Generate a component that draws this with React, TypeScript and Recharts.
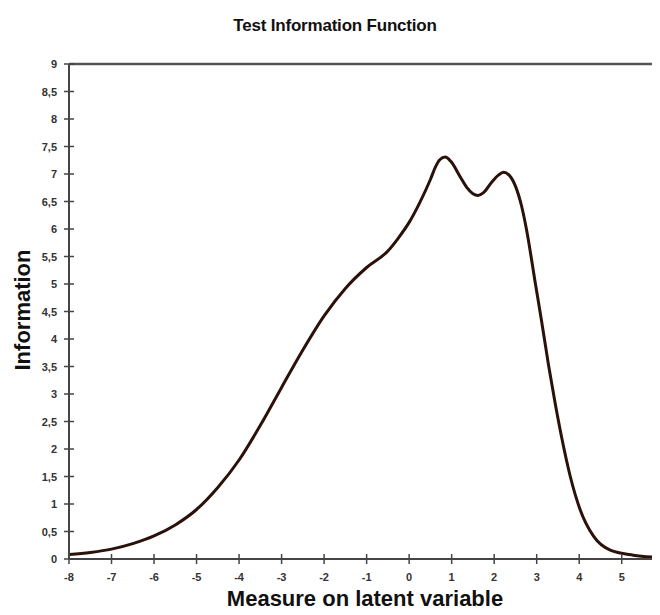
import * as React from 'react';
import { LineChart, Line, XAxis, YAxis, ReferenceLine } from 'recharts';

// points: ability (theta) vs test information
const theta = [
  -8, -7.5, -7, -6.5, -6, -5.5, -5, -4.5, -4, -3.5, -3, -2.5, -2, -1.5, -1, -0.5, -0.25, 0,
  0.25, 0.5, 0.62, 0.72, 0.85, 0.98, 1.2, 1.35, 1.5, 1.62, 1.75, 1.95, 2.1, 2.22, 2.35, 2.5,
  2.65, 2.77, 2.96, 3.12, 3.28, 3.43, 3.59, 3.79, 4.02, 4.34, 4.73, 5.27, 5.9,
];
const information = [
  0.08, 0.12, 0.18, 0.28, 0.42, 0.62, 0.9, 1.3, 1.8, 2.43, 3.12, 3.8, 4.42, 4.92, 5.3, 5.6, 5.84, 6.12,
  6.48, 6.9, 7.13, 7.26, 7.31, 7.23, 6.95, 6.76, 6.64, 6.61, 6.66, 6.86, 6.98, 7.03, 6.98, 6.78,
  6.4, 5.95, 5.05, 4.3, 3.52, 2.85, 2.2, 1.5, 0.9, 0.41, 0.16, 0.07, 0.03,
];

const xTicks = [-8, -7, -6, -5, -4, -3, -2, -1, 0, 1, 2, 3, 4, 5];
const yTicks = [0, 0.5, 1, 1.5, 2, 2.5, 3, 3.5, 4, 4.5, 5, 5.5, 6, 6.5, 7, 7.5, 8, 8.5, 9];

const chartData = theta.map((t, i) => ({ theta: t, info: information[i] }));

const font = '"Liberation Sans", Arial, sans-serif';
const axisColor = '#454545';

const comma = (v: number) => String(v).replace('.', ',');

const YTick = (props: any) => {
  const { x, y, payload } = props;
  const ax = x + 12;
  return (
    <g>
      <line x1={ax - 5} x2={ax + 5} y1={y} y2={y} stroke={axisColor} strokeWidth={1.5} />
      <text x={x} y={y + 4} textAnchor="end" fontSize={11} fontWeight="bold" fill="#333" fontFamily={font}>
        {comma(payload.value)}
      </text>
    </g>
  );
};

const XTick = (props: any) => {
  const { x, y, payload } = props;
  const ay = y - 12;
  return (
    <g>
      <line x1={x} x2={x} y1={ay - 5} y2={ay + 5} stroke={axisColor} strokeWidth={1.5} />
      <text x={x} y={y + 10} textAnchor="middle" fontSize={11} fontWeight="bold" fill="#333" fontFamily={font}>
        {payload.value}
      </text>
    </g>
  );
};

export default function App() {
  return (
    <div style={{ margin: -8, width: 660, height: 615, background: '#fff' }}>
      <LineChart width={660} height={615} data={chartData} margin={{ top: 64, right: 0, bottom: 0, left: 0 }}>
        <text x={335} y={31} textAnchor="middle" fontSize={17} fontWeight="bold" letterSpacing={-0.2} fill="#111" fontFamily={font}>
          Test Information Function
        </text>
        <text x={365} y={606} textAnchor="middle" fontSize={22} fontWeight="bold" fill="#111" fontFamily={font}>
          Measure on latent variable
        </text>
        <text x={30} y={310} transform="rotate(-90 30 310)" textAnchor="middle" fontSize={22} fontWeight="bold" fill="#111" fontFamily={font}>
          Information
        </text>
        <XAxis
          dataKey="theta"
          type="number"
          domain={[-8, 5.9]}
          ticks={xTicks}
          allowDataOverflow
          height={56}
          tickSize={0}
          tickMargin={12}
          tickLine={false}
          tick={<XTick />}
          axisLine={{ stroke: axisColor, strokeWidth: 2 }}
        />
        <YAxis
          type="number"
          domain={[0, 9]}
          ticks={yTicks}
          width={69}
          tickSize={0}
          tickMargin={12}
          tickLine={false}
          tick={<YTick />}
          axisLine={{ stroke: axisColor, strokeWidth: 2 }}
        />
        <ReferenceLine y={9} stroke="#555" strokeWidth={2.5} />
        <Line
          type="monotone"
          dataKey="info"
          stroke="#2a120a"
          strokeWidth={3}
          dot={false}
          isAnimationActive={false}
        />
      </LineChart>
    </div>
  );
}
